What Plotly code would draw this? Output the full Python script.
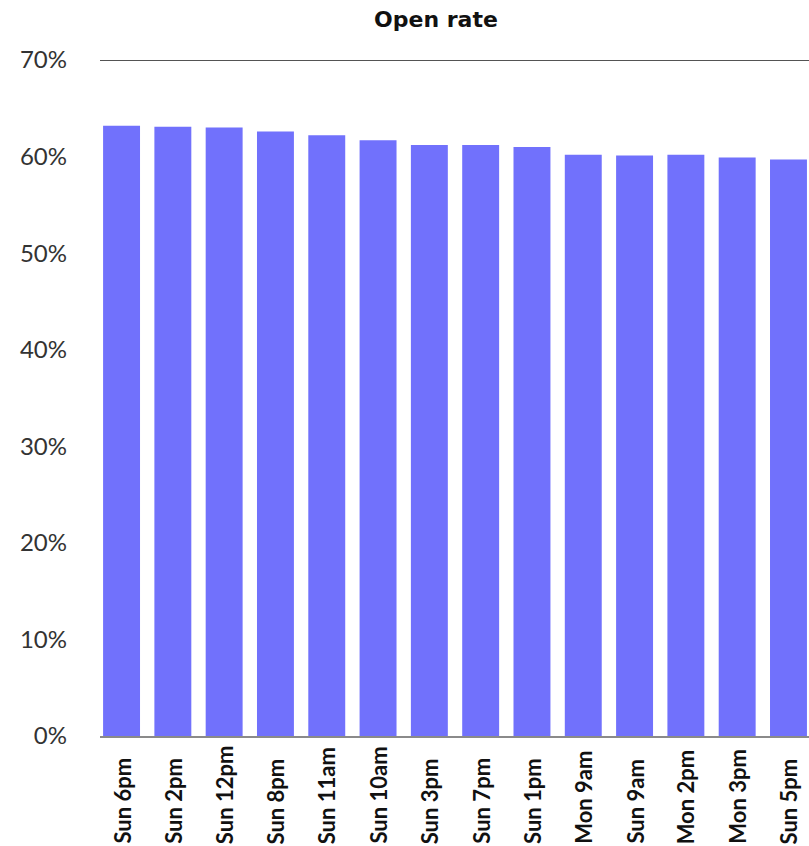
import plotly.graph_objects as go

# Send slots ranked by open rate
slots = ["Sun 6pm", "Sun 2pm", "Sun 12pm", "Sun 8pm", "Sun 11am", "Sun 10am", "Sun 3pm",
         "Sun 7pm", "Sun 1pm", "Mon 9am", "Sun 9am", "Mon 2pm", "Mon 3pm", "Sun 5pm"]
open_rate = [0.632, 0.631, 0.630, 0.626, 0.622, 0.617, 0.612,
             0.612, 0.610, 0.602, 0.601, 0.602, 0.599, 0.597]

y_ticks = [0, 0.1, 0.2, 0.3, 0.4, 0.5, 0.6, 0.7]

bar_color = "#7171FC"
tick_font = "Lato, 'Open Sans', sans-serif"
title_font = "'DejaVu Sans', sans-serif"

W, H = 809, 846
M_L, M_R, M_T, M_B = 100, 0, 60, 110
plot_h = H - M_T - M_B

fig = go.Figure(
    go.Bar(
        x=slots,
        y=open_rate,
        marker=dict(color=bar_color, line=dict(width=0)),
        hoverinfo="x+y",
    )
)

# Category labels, rotated and aligned at their start along a common baseline
label_bottom_px = 845
label_y = -(label_bottom_px - (H - M_B)) / plot_h
annotations = [
    dict(
        x=s,
        xref="x",
        y=label_y,
        yref="paper",
        text=f"<b>{s}</b>",
        textangle=-90,
        showarrow=False,
        xanchor="center",
        yanchor="bottom",
        borderpad=0,
        font=dict(size=22, family=tick_font, color="#111111"),
    )
    for s in slots
]

fig.update_layout(
    width=W,
    height=H,
    margin=dict(l=M_L, r=M_R, t=M_T, b=M_B),
    paper_bgcolor="white",
    plot_bgcolor="white",
    bargap=0.28,
    showlegend=False,
    font=dict(family=tick_font, color="#222222"),
    title=dict(
        text="<b>Open rate</b>",
        font=dict(size=22, family=title_font, color="#111111"),
        xref="container",
        x=436 / W,
        xanchor="center",
        yref="container",
        y=1 - 19 / H,
        yanchor="middle",
    ),
    xaxis=dict(
        type="category",
        range=[-0.42, 13.4],
        showticklabels=False,
        showgrid=False,
        showline=True,
        linecolor="#8a8a8a",
        linewidth=1.5,
        ticks="",
    ),
    yaxis=dict(
        range=[0, 0.7],
        tickvals=y_ticks,
        tickformat=".0%",
        tickfont=dict(size=24, family=tick_font, color="#333333"),
        showgrid=False,
        zeroline=False,
        showline=False,
        ticks="",
        ticklabelstandoff=32,
    ),
    annotations=annotations,
    shapes=[
        dict(
            type="line",
            xref="paper",
            yref="y",
            x0=0,
            x1=1,
            y0=0.7,
            y1=0.7,
            line=dict(color="#1a1a1a", width=1.5),
        )
    ],
)

fig.write_html("out.html")
